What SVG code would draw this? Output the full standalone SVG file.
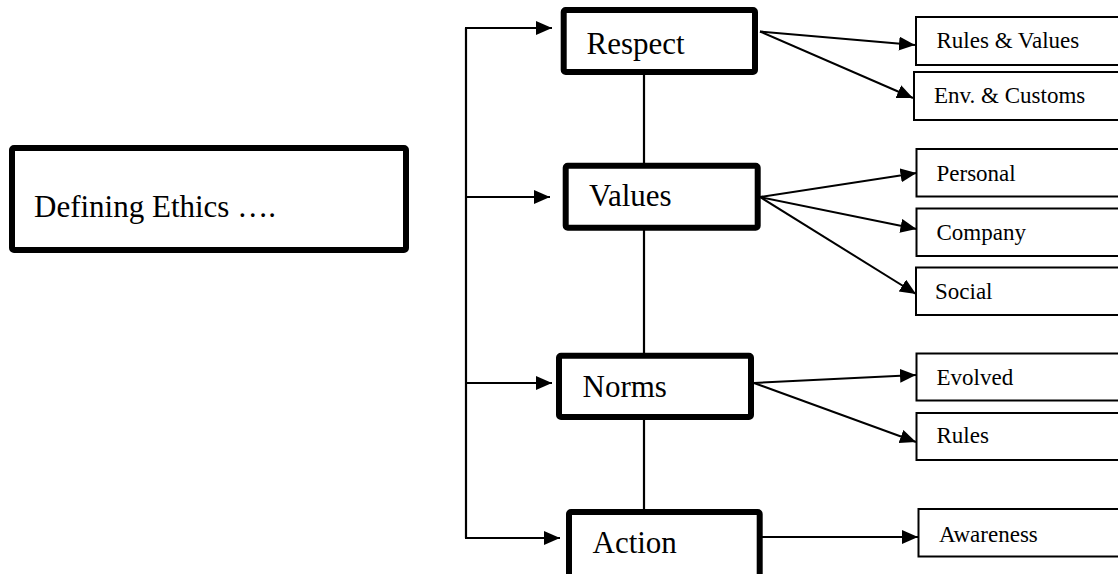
<svg xmlns="http://www.w3.org/2000/svg" width="1118" height="574" viewBox="0 0 1118 574">
  <style>
    .big { fill: #fff; stroke: #000; stroke-width: 6; stroke-linejoin: round; }
    .small { fill: #fff; stroke: #000; stroke-width: 2; }
    .t1 { font-family: "Liberation Serif", "Times New Roman", serif; font-size: 31px; fill: #000; }
    .t2 { font-family: "Liberation Serif", "Times New Roman", serif; font-size: 23px; fill: #000; }
    .ln { fill: none; stroke: #000; stroke-width: 2.2; stroke-linejoin: round; }
    .arr { fill: none; stroke: #000; stroke-width: 2; marker-end: url(#head); }
  </style>
  <defs>
    <marker id="head" markerUnits="userSpaceOnUse" markerWidth="17" markerHeight="15" refX="16" refY="7" orient="auto">
      <path d="M0,0 L16,7 L0,14 z" fill="#000"/>
    </marker>
  </defs>
  <rect width="1118" height="574" fill="#fff"/>

  <g id="connectors">
    <!-- left bracket feeding the four concepts -->
    <line class="ln" x1="466" y1="28" x2="466" y2="538"/>
    <line class="arr" x1="465" y1="28" x2="552" y2="28"/>
    <line class="arr" x1="465" y1="197" x2="550" y2="197"/>
    <line class="arr" x1="465" y1="383" x2="552" y2="383"/>
    <line class="arr" x1="465" y1="538" x2="560" y2="538"/>
    <!-- spine through the concept boxes -->
    <line class="ln" x1="644" y1="70" x2="644" y2="512"/>
    <!-- Respect -->
    <line class="arr" x1="760" y1="31.5" x2="915" y2="45"/>
    <line class="arr" x1="760" y1="31.5" x2="913" y2="98"/>
    <!-- Values -->
    <line class="arr" x1="760" y1="197" x2="916.5" y2="173"/>
    <line class="arr" x1="760" y1="197" x2="916.5" y2="229"/>
    <line class="arr" x1="760" y1="197" x2="916" y2="294"/>
    <!-- Norms -->
    <line class="arr" x1="754" y1="383" x2="916" y2="375"/>
    <line class="arr" x1="754" y1="383" x2="916" y2="442"/>
    <!-- Action -->
    <line class="arr" x1="762" y1="537" x2="918" y2="537"/>
  </g>

  <g id="defining">
    <rect class="big" x="12" y="148" width="394" height="102" rx="2" stroke-width="6.5"/>
    <text class="t1" x="34" y="216.5">Defining Ethics ….</text>
  </g>

  <g id="respect">
    <rect class="big" x="563.7" y="10" width="191.3" height="62" rx="2"/>
    <text class="t1" x="586.5" y="53.5">Respect</text>
  </g>
  <g id="values">
    <rect class="big" x="565.7" y="165.7" width="192" height="62" rx="2"/>
    <text class="t1" x="589" y="206">Values</text>
  </g>
  <g id="norms">
    <rect class="big" x="559" y="355.7" width="192" height="61.3" rx="2"/>
    <text class="t1" x="582.5" y="397">Norms</text>
  </g>
  <g id="action">
    <rect class="big" x="569" y="512" width="190.7" height="66" rx="2"/>
    <text class="t1" x="592.5" y="553">Action</text>
  </g>

  <g id="rules-values">
    <rect class="small" x="916" y="17" width="220" height="48"/>
    <text class="t2" x="936.5" y="48">Rules &amp; Values</text>
  </g>
  <g id="env-customs">
    <rect class="small" x="914" y="72" width="220" height="48"/>
    <text class="t2" x="934" y="103">Env. &amp; Customs</text>
  </g>
  <g id="personal">
    <rect class="small" x="916.5" y="149" width="220" height="47.5"/>
    <text class="t2" x="936.5" y="180.5">Personal</text>
  </g>
  <g id="company">
    <rect class="small" x="916.5" y="208.5" width="220" height="47.5"/>
    <text class="t2" x="936.5" y="240">Company</text>
  </g>
  <g id="social">
    <rect class="small" x="916" y="267.5" width="220" height="47.5"/>
    <text class="t2" x="935" y="299">Social</text>
  </g>
  <g id="evolved">
    <rect class="small" x="916.5" y="353.5" width="220" height="47"/>
    <text class="t2" x="936.5" y="385">Evolved</text>
  </g>
  <g id="rules">
    <rect class="small" x="916.5" y="413" width="220" height="47"/>
    <text class="t2" x="936.5" y="443">Rules</text>
  </g>
  <g id="awareness">
    <rect class="small" x="918.5" y="509" width="220" height="47.5"/>
    <text class="t2" x="939" y="541.5">Awareness</text>
  </g>
</svg>
